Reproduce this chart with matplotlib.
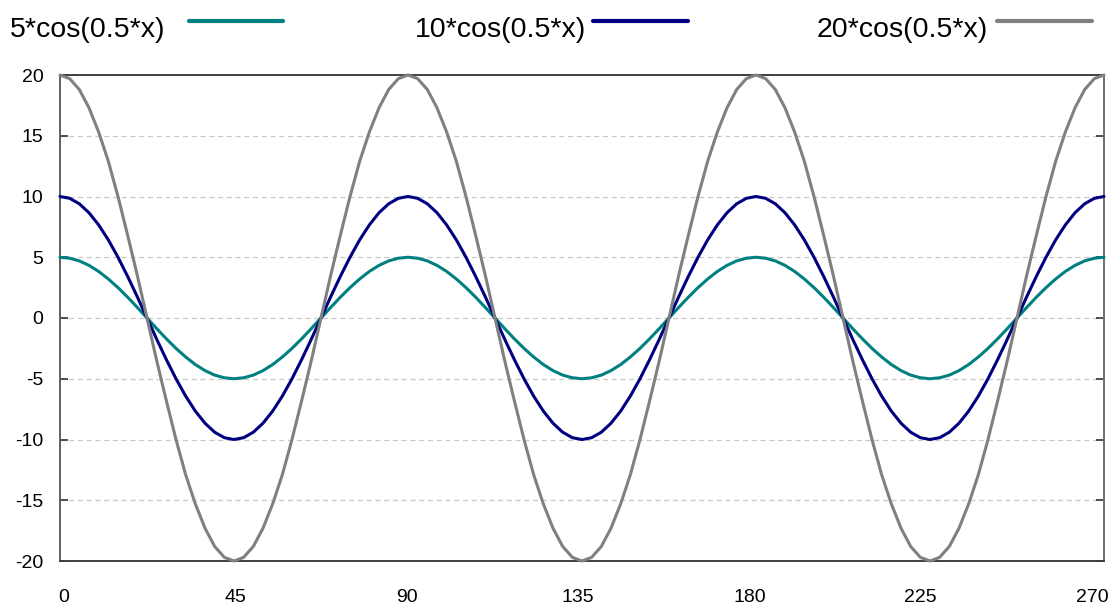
import numpy as np
import matplotlib
matplotlib.use("Agg")
import matplotlib.pyplot as plt
from matplotlib.lines import Line2D
from matplotlib.transforms import ScaledTranslation

plt.rcParams['font.family'] = ['Liberation Sans', 'DejaVu Sans']

labels = ["5*cos(0.5*x)", "10*cos(0.5*x)", "20*cos(0.5*x)"]
colors = ["#008080", "#000080", "#808080"]

x_ticks = [0, 45, 90, 135, 180, 225, 270]
y_ticks = [-20, -15, -10, -5, 0, 5, 10, 15, 20]

x_vals = np.arange(0, 270.0001, 2.5)

y5 = [5, 4.92, 4.7, 4.33, 3.83, 3.21, 2.5, 1.71, 0.87, 0, -0.87, -1.71, -2.5, -3.21, -3.83, -4.33, -4.7, -4.92,
      -5, -4.92, -4.7, -4.33, -3.83, -3.21, -2.5, -1.71, -0.87, 0, 0.87, 1.71, 2.5, 3.21, 3.83, 4.33, 4.7, 4.92,
      5, 4.92, 4.7, 4.33, 3.83, 3.21, 2.5, 1.71, 0.87, 0, -0.87, -1.71, -2.5, -3.21, -3.83, -4.33, -4.7, -4.92,
      -5, -4.92, -4.7, -4.33, -3.83, -3.21, -2.5, -1.71, -0.87, 0, 0.87, 1.71, 2.5, 3.21, 3.83, 4.33, 4.7, 4.92,
      5, 4.92, 4.7, 4.33, 3.83, 3.21, 2.5, 1.71, 0.87, 0, -0.87, -1.71, -2.5, -3.21, -3.83, -4.33, -4.7, -4.92,
      -5, -4.92, -4.7, -4.33, -3.83, -3.21, -2.5, -1.71, -0.87, 0, 0.87, 1.71, 2.5, 3.21, 3.83, 4.33, 4.7, 4.92,
      5]

y10 = [10, 9.85, 9.4, 8.66, 7.66, 6.43, 5, 3.42, 1.74, 0, -1.74, -3.42, -5, -6.43, -7.66, -8.66, -9.4, -9.85,
       -10, -9.85, -9.4, -8.66, -7.66, -6.43, -5, -3.42, -1.74, 0, 1.74, 3.42, 5, 6.43, 7.66, 8.66, 9.4, 9.85,
       10, 9.85, 9.4, 8.66, 7.66, 6.43, 5, 3.42, 1.74, 0, -1.74, -3.42, -5, -6.43, -7.66, -8.66, -9.4, -9.85,
       -10, -9.85, -9.4, -8.66, -7.66, -6.43, -5, -3.42, -1.74, 0, 1.74, 3.42, 5, 6.43, 7.66, 8.66, 9.4, 9.85,
       10, 9.85, 9.4, 8.66, 7.66, 6.43, 5, 3.42, 1.74, 0, -1.74, -3.42, -5, -6.43, -7.66, -8.66, -9.4, -9.85,
       -10, -9.85, -9.4, -8.66, -7.66, -6.43, -5, -3.42, -1.74, 0, 1.74, 3.42, 5, 6.43, 7.66, 8.66, 9.4, 9.85,
       10]

y20 = [20, 19.7, 18.8, 17.3, 15.3, 12.9, 10, 6.8, 3.5, 0, -3.5, -6.8, -10, -12.9, -15.3, -17.3, -18.8, -19.7,
       -20, -19.7, -18.8, -17.3, -15.3, -12.9, -10, -6.8, -3.5, 0, 3.5, 6.8, 10, 12.9, 15.3, 17.3, 18.8, 19.7,
       20, 19.7, 18.8, 17.3, 15.3, 12.9, 10, 6.8, 3.5, 0, -3.5, -6.8, -10, -12.9, -15.3, -17.3, -18.8, -19.7,
       -20, -19.7, -18.8, -17.3, -15.3, -12.9, -10, -6.8, -3.5, 0, 3.5, 6.8, 10, 12.9, 15.3, 17.3, 18.8, 19.7,
       20, 19.7, 18.8, 17.3, 15.3, 12.9, 10, 6.8, 3.5, 0, -3.5, -6.8, -10, -12.9, -15.3, -17.3, -18.8, -19.7,
       -20, -19.7, -18.8, -17.3, -15.3, -12.9, -10, -6.8, -3.5, 0, 3.5, 6.8, 10, 12.9, 15.3, 17.3, 18.8, 19.7,
       20]

series = [y5, y10, y20]

W, H = 1115, 608
fig = plt.figure(figsize=(W / 100, H / 100), dpi=100)
ax = fig.add_axes([60 / W, 1 - 561 / H, (1104 - 60) / W, (561 - 75) / H])

for ys, c in zip(series, colors):
    ax.plot(x_vals, ys, color=c, lw=2.2, solid_capstyle='round', zorder=3, clip_on=False)

ax.set_xlim(0, 270)
ax.set_ylim(-20, 20)
ax.set_xticks(x_ticks)
ax.set_yticks(y_ticks)
ax.set_xticklabels([str(v) for v in x_ticks])
ax.set_yticklabels([str(v) for v in y_ticks])

for yv in y_ticks[1:-1]:
    ax.axhline(yv, color="#c8c8c8", lw=0.9, ls=(0, (4, 3)), zorder=1)

ax.tick_params(axis='y', direction='in', length=6, width=1.2, color="#333333",
               right=True, labelsize=14, pad=12)
ax.tick_params(axis='x', length=0, labelsize=14, pad=20)

# x labels in the reference are spread evenly between 64 px and 1092 px
n = len(x_ticks)
for i, lab in enumerate(ax.get_xticklabels()):
    tick_px = 60 + (1104 - 60) * i / (n - 1)
    want_px = 64 + (1092 - 64) * i / (n - 1)
    dx = (want_px - tick_px) / 100.0
    lab.set_transform(lab.get_transform() + ScaledTranslation(dx, 0, fig.dpi_scale_trans))

ax.spines['left'].set_color("#606060")
ax.spines['right'].set_color("#707070")
ax.spines['top'].set_color("#404040")
ax.spines['bottom'].set_color("#404040")
for s in ax.spines.values():
    s.set_linewidth(1.4)

# legend along the top
leg_text_x = [10, 415, 817]
leg_line_x = [(189, 283), (593, 688), (997, 1092)]
for lab, c, tx, (l0, l1) in zip(labels, colors, leg_text_x, leg_line_x):
    fig.text(tx / W, 1 - 30 / H, lab, fontsize=20.5, ha='left', va='center', color='black')
    fig.add_artist(Line2D([l0 / W, l1 / W], [1 - 21 / H, 1 - 21 / H], color=c, lw=3,
                          solid_capstyle='round', transform=fig.transFigure))

fig.savefig("out.png", dpi=100, facecolor='white')
